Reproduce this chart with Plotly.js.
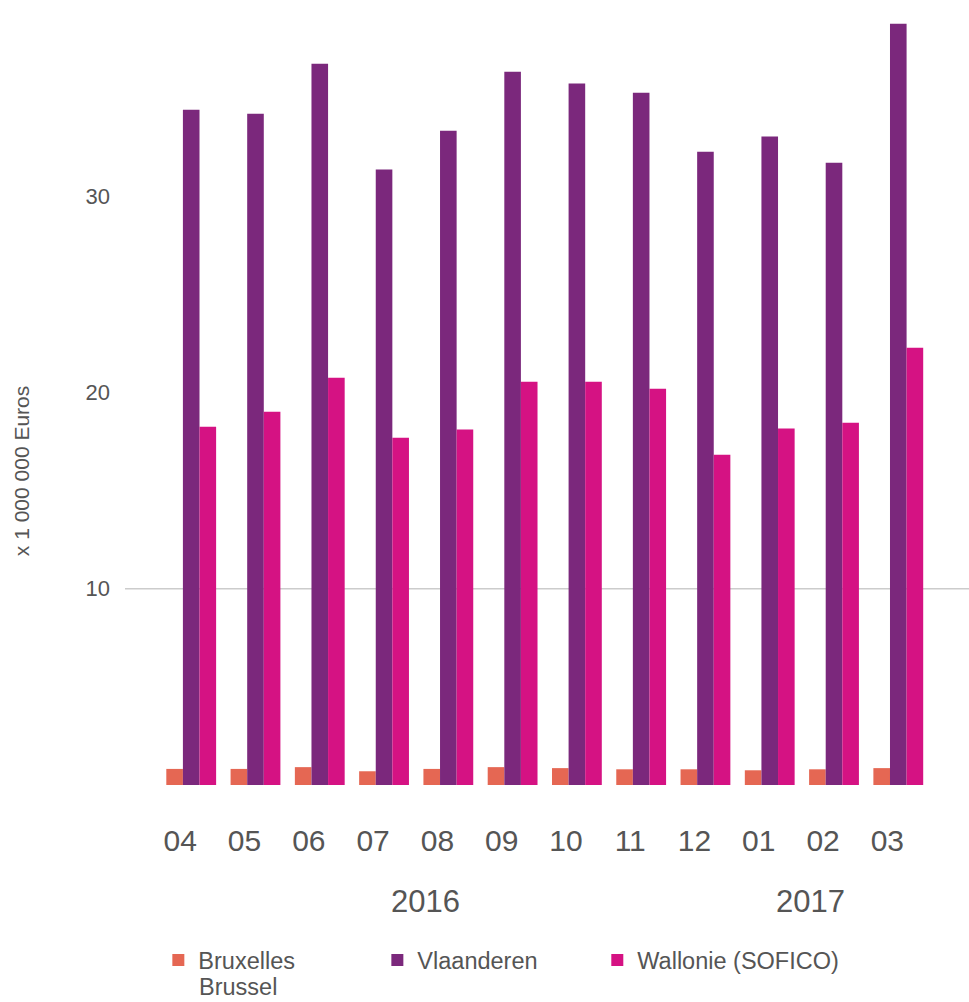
<!DOCTYPE html>
<html>
<head>
<meta charset="utf-8">
<script src="https://cdn.plot.ly/plotly-3.0.1.min.js"></script>
<style>html,body{margin:0;padding:0;background:#fff;}#chart{width:969px;height:1002px;}</style>
</head>
<body>
<div id="chart"></div>
<script>
var months = ["04","05","06","07","08","09","10","11","12","01","02","03"];
var bruxelles = [0.82,0.82,0.91,0.70,0.82,0.91,0.86,0.80,0.80,0.75,0.80,0.86];
var vlaanderen = [34.41,34.21,36.75,31.36,33.34,36.35,35.74,35.28,32.27,33.04,31.71,38.79];
var wallonie = [18.26,19.02,20.75,17.70,18.11,20.55,20.55,20.19,16.83,18.16,18.46,22.28];
var years = ["2016","2017"];
var yearPos = [3.64, 9.64];
var seriesNames = ["Bruxelles","Vlaanderen","Wallonie (SOFICO)"];
var secondLine = "Brussel";
var colors = ["#e56753","#7b287c","#d51283"];

var xs = months.map(function(m,i){return i;});
var labelPos = xs.map(function(i){return i - 0.17;});
var font = "Liberation Sans, Arial, sans-serif";
var grey = "#555555";
var legendIds = ["legend","legend2","legend3"];
var legendX = [0.0395, 0.299, 0.5596];

var traces = [bruxelles, vlaanderen, wallonie].map(function(vals,k){
  return {type:"bar", x:xs, y:vals, name:seriesNames[k], marker:{color:colors[k]},
          hoverinfo:"y", legend:legendIds[k]};
});

var annotations = years.map(function(y,i){
  return {x:yearPos[i], xref:"x", y:-0.149, yref:"paper", text:y, showarrow:false,
          font:{family:font, size:31, color:grey}, xanchor:"center", yanchor:"middle"};
});
annotations.push({x:-0.123, xref:"paper", y:0.40, yref:"paper", text:"x 1 000 000 Euros",
  textangle:-90, showarrow:false, font:{family:font, size:21, color:grey}, xanchor:"center", yanchor:"middle"});
annotations.push({x:0.0877, xref:"paper", y:-0.2578, yref:"paper", text:secondLine,
  showarrow:false, font:{family:font, size:23.5, color:grey}, xanchor:"left", yanchor:"middle", xshift:-2});

var layout = {
  width:969, height:1002,
  margin:{l:125, r:0, t:0, b:216.5, autoexpand:false},
  paper_bgcolor:"#fff", plot_bgcolor:"#fff",
  barmode:"group", bargap:0.225, bargroupgap:0,
  font:{family:font, color:grey},
  xaxis:{tickmode:"array", tickvals:labelPos, ticktext:months, range:[-1.03,12.1],
         showgrid:false, zeroline:false, showline:false, ticks:"",
         tickfont:{family:font, size:30, color:grey}, ticklabelstandoff:35},
  yaxis:{range:[0,40], tickvals:[10,20,30], showgrid:false, zeroline:false, showline:false, ticks:"",
         tickfont:{family:font, size:22, color:grey}, ticklabelstandoff:14},
  shapes:[{type:"line", xref:"paper", x0:0, x1:1, yref:"y", y0:10, y1:10,
           line:{color:"#cccccc", width:1.5}, layer:"below"}],
  annotations:annotations,
  showlegend:true
};
legendIds.forEach(function(id,k){
  layout[id] = {orientation:"v", x:legendX[k], xanchor:"left", y:-0.1953, yanchor:"top",
    font:{family:font, size:23.5, color:grey}, valign:"top", itemclick:false, bgcolor:"rgba(0,0,0,0)"};
});
Plotly.newPlot("chart", traces, layout, {displayModeBar:false, staticPlot:true});
</script>
</body>
</html>
